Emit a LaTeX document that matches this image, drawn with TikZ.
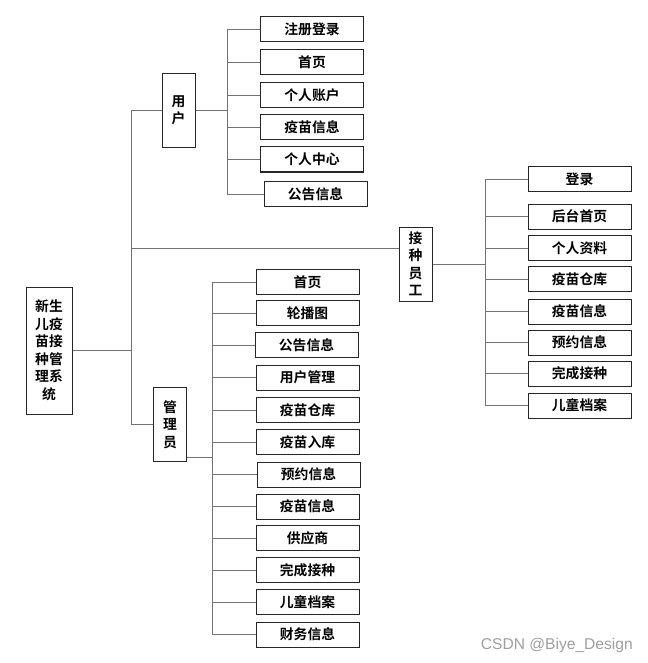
\documentclass[tikz,border=0pt]{standalone}
\usepackage{fontspec}
\usepackage{tikz}
\usetikzlibrary{positioning}
\newfontfamily\cjk{Noto Sans CJK SC}[BoldFont={* Bold}]
\newfontfamily\wmfont{Liberation Sans}

\begin{document}
\begin{tikzpicture}[
            x=1pt,y=-1pt,
            box/.style={draw=black!85,line width=1pt,rectangle,inner sep=0,align=center,
                        font=\cjk\bfseries\fontsize{13.8}{17.5}\selectfont},
            leaf/.style={box,minimum width=103pt,minimum height=25pt},
            role/.style={box,minimum width=33pt,minimum height=74pt},
            link/.style={draw=black!55,line width=0.9pt}
          ]
          \useasboundingbox (0,0) rectangle (647,663);

          \node[box,minimum width=46pt,minimum height=127pt] (root) at (49,350.5)
            {新生\\儿疫\\苗接\\种管\\理系\\统};

          % roles
          \node[role] (user) at (178.5,110.5) {用\\户};
          \node[role] (emp) at (415.5,264) {接\\种\\员\\工};
          \node[role] (admin) at (170,424.5) {管\\理\\员};

          % user pages
          \node[leaf] (u1) at (312,29.5) {注册登录};
          \node[leaf] (u2) at (312,62) {首页};
          \node[leaf] (u3) at (312,95) {个人账户};
          \node[leaf] (u4) at (312,127) {疫苗信息};
          \node[leaf] (u5) at (312,159.5) {个人中心};
          \node[leaf] (u6) at (315.5,194) {公告信息};

          % staff pages
          \node[leaf] (e1) at (579.5,179) {登录};
          \node[leaf] (e2) at (579.5,216.5) {后台首页};
          \node[leaf] (e3) at (579.5,248) {个人资料};
          \node[leaf] (e4) at (579.5,279) {疫苗仓库};
          \node[leaf] (e5) at (579.5,311.5) {疫苗信息};
          \node[leaf] (e6) at (579.5,342.5) {预约信息};
          \node[leaf] (e7) at (579.5,373.5) {完成接种};
          \node[leaf] (e8) at (579.5,405.5) {儿童档案};

          % admin pages
          \node[leaf] (a1) at (307.5,282) {首页};
          \node[leaf] (a2) at (307.5,313) {轮播图};
          \node[leaf] (a3) at (306.5,345) {公告信息};
          \node[leaf] (a4) at (307.5,377.5) {用户管理};
          \node[leaf] (a5) at (307.5,410) {疫苗仓库};
          \node[leaf] (a6) at (307.5,442) {疫苗入库};
          \node[leaf] (a7) at (308.5,474.5) {预约信息};
          \node[leaf] (a8) at (307.5,506.5) {疫苗信息};
          \node[leaf] (a9) at (307.5,538) {供应商};
          \node[leaf] (a10) at (307.5,570) {完成接种};
          \node[leaf] (a11) at (307.5,602) {儿童档案};
          \node[leaf] (a12) at (307.5,634.5) {财务信息};

          % bus lines
          \coordinate (trunk) at (131,0);
          \coordinate (ubus) at (227,0);
          \coordinate (ebus) at (485,0);
          \coordinate (abus) at (212,0);

          \path[link]
          (root.east) -- (root.east -| trunk)
          (trunk |- user.west) -- (trunk |- admin.west)
          (trunk |- user.west) -- (user.west)
          (trunk |- admin.west) -- (admin.west)
          ([yshift=16pt]emp.west -| trunk) -- ([yshift=16pt]emp.west)

          (user.east) -- (user.east -| ubus)
          (ubus |- u1.west) -- (ubus |- u6.west)
          (emp.east) -- (emp.east -| ebus)
          (ebus |- e1.west) -- (ebus |- e8.west)
          ([yshift=5pt]admin.south east) -- ([yshift=5pt]admin.south east -| abus)
          (abus |- a1.west) -- (abus |- a12.west)
          ;
          \foreach \i in {1,...,6} \path[link] (ubus |- u\i.west) -- (u\i.west);
          \foreach \i in {1,...,8} \path[link] (ebus |- e\i.west) -- (e\i.west);
          \foreach \i in {1,...,12} \path[link] (abus |- a\i.west) -- (a\i.west);

          \node[anchor=east,text=black!38,font=\wmfont\fontsize{15.6}{18}\selectfont,inner sep=0]
            (mark) at (633,645) {CSDN @Biye\_Design};
      \end{tikzpicture}
\end{document}
